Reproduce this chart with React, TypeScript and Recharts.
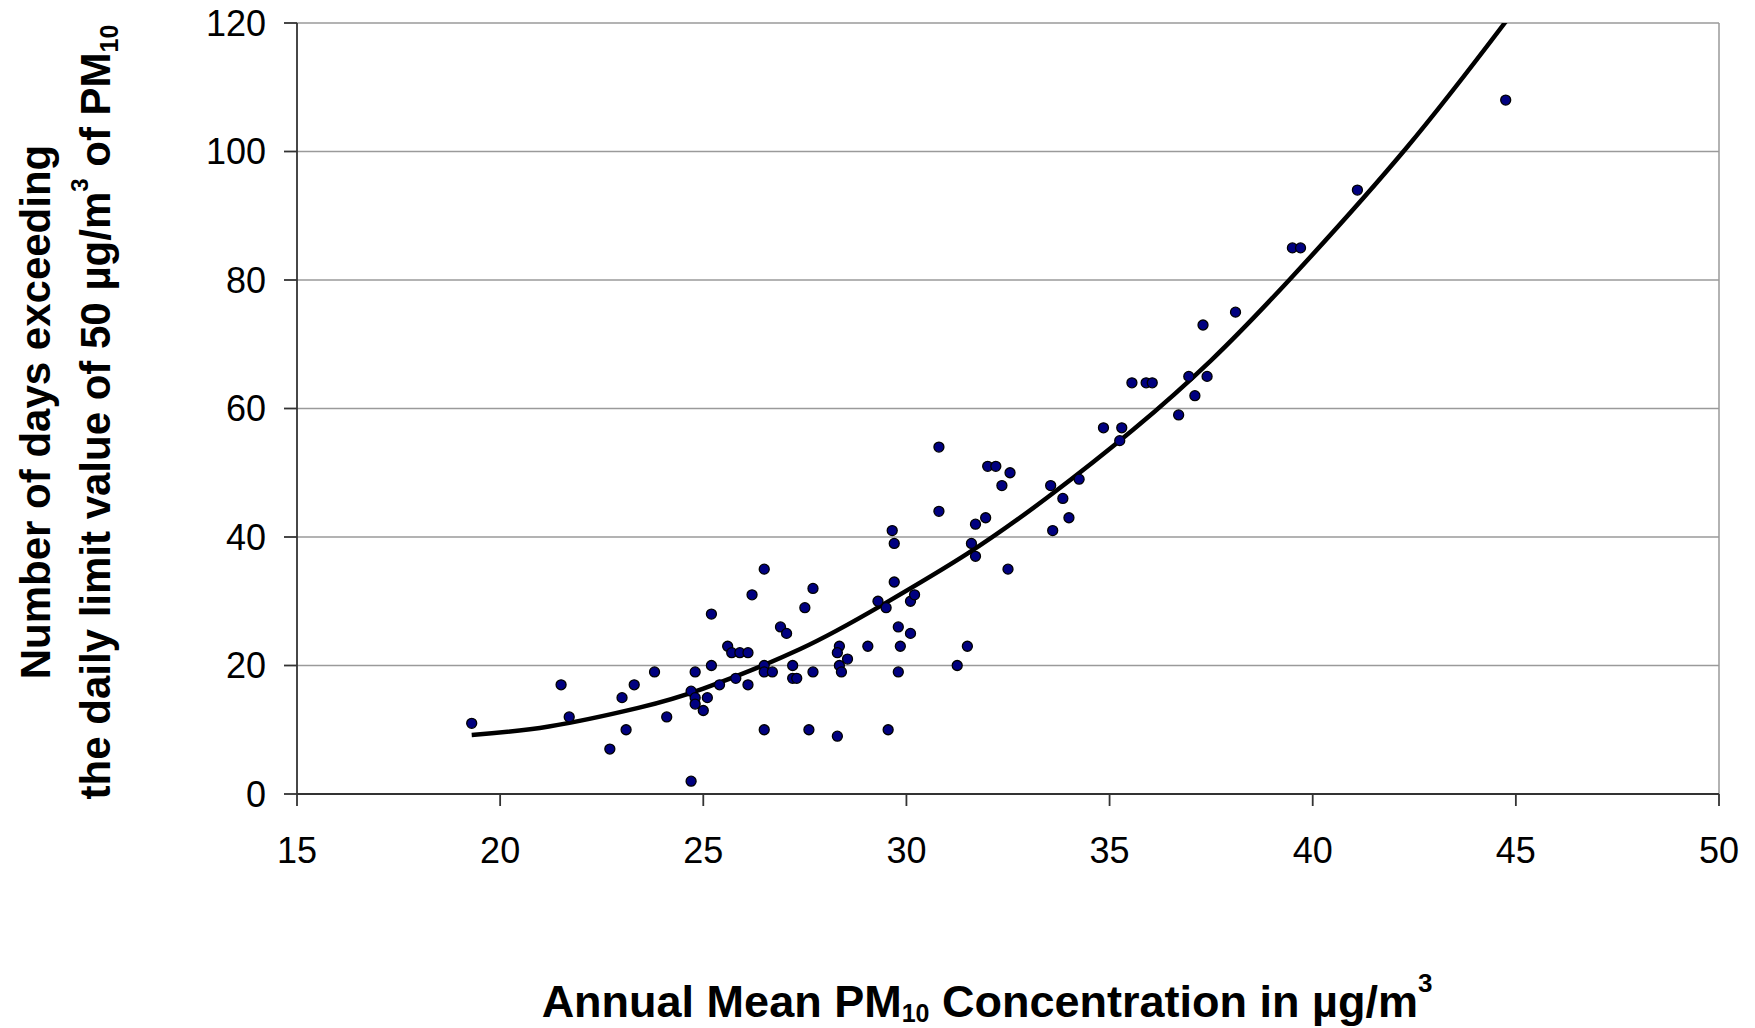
import React from "react";
import {
  ComposedChart,
  Scatter,
  Line,
  XAxis,
  YAxis,
  CartesianGrid,
  ReferenceLine,
  Label,
} from "recharts";

// Annual mean PM10 (µg/m³) of each station
const pmMean: number[] = [
  19.3, 21.5, 21.7, 22.7, 23.0, 23.1, 23.3, 23.8, 24.1, 24.7,
  24.7, 24.8, 24.8, 24.8, 25.0, 25.1, 25.2, 25.2, 25.4, 25.6,
  25.7, 25.8, 25.9, 26.1, 26.1, 26.2, 26.5, 26.5, 26.5, 26.7,
  26.5, 26.9, 27.05, 27.2, 27.2, 27.3, 27.5, 27.6, 27.7, 27.7,
  28.35, 28.3, 28.3, 28.35, 28.4, 28.55, 29.05, 29.3, 29.5, 29.55,
  29.65, 29.7, 29.7, 29.8, 29.85, 29.8, 30.1, 30.1, 30.2, 30.8,
  30.8, 31.25, 31.5, 31.6, 31.7, 31.7, 31.95, 32.0, 32.2, 32.35,
  32.5, 32.55, 33.55, 33.6, 33.85, 34.0, 34.25, 34.85, 35.25, 35.3,
  35.55, 35.9, 36.05, 36.7, 36.95, 37.1, 37.3, 37.4, 38.1, 39.5,
  39.7, 41.1, 44.75,
];

// Number of days exceeding 50 µg/m³
const exceedDays: number[] = [
  11, 17, 12, 7, 15, 10, 17, 19, 12, 2,
  16, 15, 14, 19, 13, 15, 28, 20, 17, 23,
  22, 18, 22, 22, 17, 31, 35, 20, 19, 19,
  10, 26, 25, 20, 18, 18, 29, 10, 32, 19,
  23, 22, 9, 20, 19, 21, 23, 30, 29, 10,
  41, 39, 33, 26, 23, 19, 25, 30, 31, 54,
  44, 20, 23, 39, 42, 37, 43, 51, 51, 48,
  35, 50, 48, 41, 46, 43, 49, 57, 55, 57,
  64, 64, 64, 59, 65, 62, 73, 65, 75, 85,
  85, 94, 108,
];

// Trend curve
const trendX: number[] = [19.3, 21.2, 23.4, 25, 27.4, 29.4, 31.5, 33.5, 35.6, 37.5, 39.45, 42.3, 44.75];
const trendY: number[] = [9.2, 10.5, 13.4, 16.4, 22.6, 29.4, 37.4, 46.3, 56.8, 67.5, 80.2, 100.5, 120.2];

const xTicks: number[] = [15, 20, 25, 30, 35, 40, 45, 50];
const yTicks: number[] = [0, 20, 40, 60, 80, 100, 120];

const points = pmMean.map((x, i) => ({ x, y: exceedDays[i] }));
const trend = trendX.map((x, i) => ({ x, y: trendY[i] }));

const FONT = "'Liberation Sans', Arial, Helvetica, sans-serif";

const Dot = (props: any) => {
  const { cx, cy } = props;
  if (cx == null || cy == null) return null;
  return <circle cx={cx} cy={cy} r={5} fill="#000080" stroke="#000" strokeWidth={1.3} />;
};

const YTitle = () => (
  <g fontFamily={FONT} fontWeight="bold" fontSize={42} fill="#000">
    <text transform="translate(50,412) rotate(-90)" textAnchor="middle">
      Number of days exceeding
    </text>
    <text transform="translate(110,412) rotate(-90)" textAnchor="middle">
      the daily limit value of 50 µg/m
      <tspan fontSize={24} dy={-22}>3</tspan>
      <tspan dy={22}> of PM</tspan>
      <tspan fontSize={25} dy={8}>10</tspan>
    </text>
  </g>
);

const XTitle = () => (
  <text x={987} y={1017} textAnchor="middle" fontFamily={FONT} fontWeight="bold" fontSize={45} fill="#000">
    Annual Mean PM
    <tspan fontSize={25} dy={5}>10</tspan>
    <tspan dy={-5}> Concentration in µg/m</tspan>
    <tspan fontSize={26} dy={-25}>3</tspan>
  </text>
);

export default function App() {
  return (
    <div style={{ position: "absolute", left: 0, top: 0, width: 1755, height: 1028, background: "#fff" }}>
      <ComposedChart
        width={1755}
        height={1028}
        margin={{ top: 23, right: 36, bottom: 0, left: 0 }}
      >
        <CartesianGrid horizontal={true} vertical={false} stroke="#9a9a9a" strokeWidth={1.5} />
        <XAxis
          type="number"
          dataKey="x"
          domain={[15, 50]}
          ticks={xTicks}
          allowDataOverflow
          height={234}
          stroke="#333"
          strokeWidth={1.8}
          tickSize={12}
          tickMargin={31}
          tick={{ fill: "#000", fontSize: 36, fontFamily: FONT }}
        >
          <Label content={<XTitle />} />
        </XAxis>
        <YAxis
          type="number"
          dataKey="y"
          domain={[0, 120]}
          ticks={yTicks}
          allowDataOverflow
          width={297}
          stroke="#333"
          strokeWidth={1.8}
          tickSize={13}
          tickMargin={18}
          tick={{ fill: "#000", fontSize: 36, fontFamily: FONT }}
        >
          <Label content={<YTitle />} />
        </YAxis>
        <ReferenceLine x={50} stroke="#9a9a9a" strokeWidth={1.5} />
        <Line
          data={trend}
          dataKey="y"
          type="natural"
          stroke="#000"
          strokeWidth={4.5}
          dot={false}
          activeDot={false}
          isAnimationActive={false}
        />
        <Scatter data={points} dataKey="y" shape={<Dot />} isAnimationActive={false} />
      </ComposedChart>
    </div>
  );
}
